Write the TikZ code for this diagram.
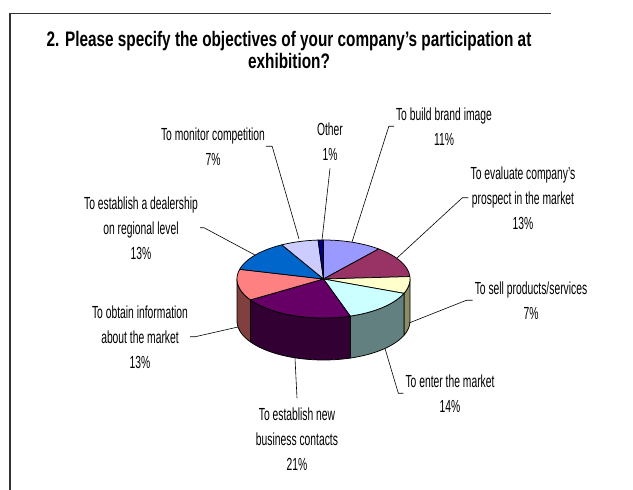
\documentclass[tikz,border=0pt]{standalone}
\usepackage{fontspec}
\setmainfont{Liberation Sans}[FakeStretch=0.59]
\newfontfamily\titlefont{Liberation Sans}[FakeStretch=0.73]
\usepackage{xcolor}
\usepackage{tikz}
\definecolor{cBrand}{HTML}{9999FF}
\definecolor{cEval}{HTML}{993366}
\definecolor{cSell}{HTML}{FFFFCC}
\definecolor{cEnter}{HTML}{CCFFFF}
\definecolor{cBiz}{HTML}{660066}
\definecolor{cInfo}{HTML}{FF8080}
\definecolor{cDeal}{HTML}{0066CC}
\definecolor{cMon}{HTML}{CCCCFF}
\definecolor{cOther}{HTML}{000080}
\definecolor{sSell}{HTML}{8C8C66}
\definecolor{sEnter}{HTML}{628080}
\definecolor{sBiz}{HTML}{330033}
\definecolor{sInfo}{HTML}{804040}
\def\pieX{323.5}
\def\pieY{279}
\def\pieRx{86.5}
\def\pieRy{39}
\def\pieD{42}
\tikzset{
    lbl/.style = {align=center, inner sep=0pt, anchor=base, font=\fontsize{17.5}{25}\selectfont},
    ttl/.style = {align=center, inner sep=0pt, anchor=base, font=\titlefont\bfseries\fontsize{21}{22}\selectfont},
    leader/.style = {draw=black, line width=0.6pt},
    slice/.style = {draw=black, line width=0.75pt, line join=round},
    frameline/.style = {draw=black!80, line width=1.5pt}
}
\begin{document}
\begin{tikzpicture}[x=1pt, y=-1pt]
    \fill[white] (0,0) rectangle (633,490);
    \useasboundingbox (0,0) rectangle (633,490);
    \draw[frameline] (10,490) -- (10,13.3) -- (551,13.3);
    \node[ttl] (title) at (289,68.5) {2. Please specify the objectives of your company’s participation at\\exhibition?};
    % side of the pie
    \foreach \a/\b/\col in {90/111.6/sSell, 111.6/162/sEnter, 162/237.6/sBiz, 237.6/270/sInfo}{
        \filldraw[slice, fill=\col] plot[domain=\a:\b, samples=30] ({\pieX+\pieRx*sin(\x)},{\pieY-\pieRy*cos(\x)})
            -- plot[domain=\b:\a, samples=30] ({\pieX+\pieRx*sin(\x)},{\pieY+\pieD-\pieRy*cos(\x)}) -- cycle;
    }
    % top of the pie
    \foreach \a/\b/\col in {0/39.6/cBrand, 39.6/86.4/cEval, 86.4/111.6/cSell, 111.6/162/cEnter, 162/237.6/cBiz,
                            237.6/284.4/cInfo, 284.4/331.2/cDeal, 331.2/356.4/cMon, 356.4/360/cOther}{
        \filldraw[slice, fill=\col] (\pieX,\pieY) -- plot[domain=\a:\b, samples=30] ({\pieX+\pieRx*sin(\x)},{\pieY-\pieRy*cos(\x)}) -- cycle;
    }
    \coordinate (pBrand) at (352,242);
    \coordinate (pEval) at (397,258);
    \coordinate (pSell) at (409,323);
    \coordinate (pEnter) at (385,348.5);
    \coordinate (pBiz) at (295,358);
    \coordinate (pInfo) at (238,327);
    \coordinate (pDeal) at (255,255);
    \coordinate (pMon) at (299,239);
    \coordinate (pOther) at (322,240);
    \node[lbl] (lBrand) at (444,145) {To build brand image\\11\%};
    \node[lbl] (lEval) at (523,229) {To evaluate company’s\\prospect in the market\\13\%};
    \node[lbl] (lSell) at (531,319) {To sell products/services\\7\%};
    \node[lbl] (lEnter) at (450,412) {To enter the market\\14\%};
    \node[lbl] (lBiz) at (297,470) {To establish new\\business contacts\\21\%};
    \node[lbl] (lInfo) at (140,368) {To obtain information\\about the market\\13\%};
    \node[lbl] (lDeal) at (141,259) {To establish a dealership\\on regional level\\13\%};
    \node[lbl] (lMon) at (213,165) {To monitor competition\\7\%};
    \node[lbl] (lOther) at (330,160) {Other\\1\%};
    \draw[leader] ([xshift=-2pt]lBrand.west) -- ++(-5,0) -- (pBrand);
    \draw[leader] ([xshift=-2pt]lEval.west) -- ++(-6,0) -- (pEval);
    \draw[leader] ([xshift=-2pt]lSell.west) -- ++(-6,0) -- (pSell);
    \draw[leader] ([xshift=-2pt]lEnter.west) -- ++(-5,0) -- (pEnter);
    \draw[leader] ([yshift=9pt]lBiz.north) -- (pBiz);
    \draw[leader] ([xshift=2pt]lInfo.east) -- ++(5,0) -- (pInfo);
    \draw[leader] ([xshift=2pt]lDeal.east) -- ++(4,0) -- (pDeal);
    \draw[leader] ([xshift=1pt]lMon.east) -- ++(6,0) -- (pMon);
    \draw[leader] ([yshift=-8pt]lOther.south) -- (pOther);
\end{tikzpicture}
\end{document}
